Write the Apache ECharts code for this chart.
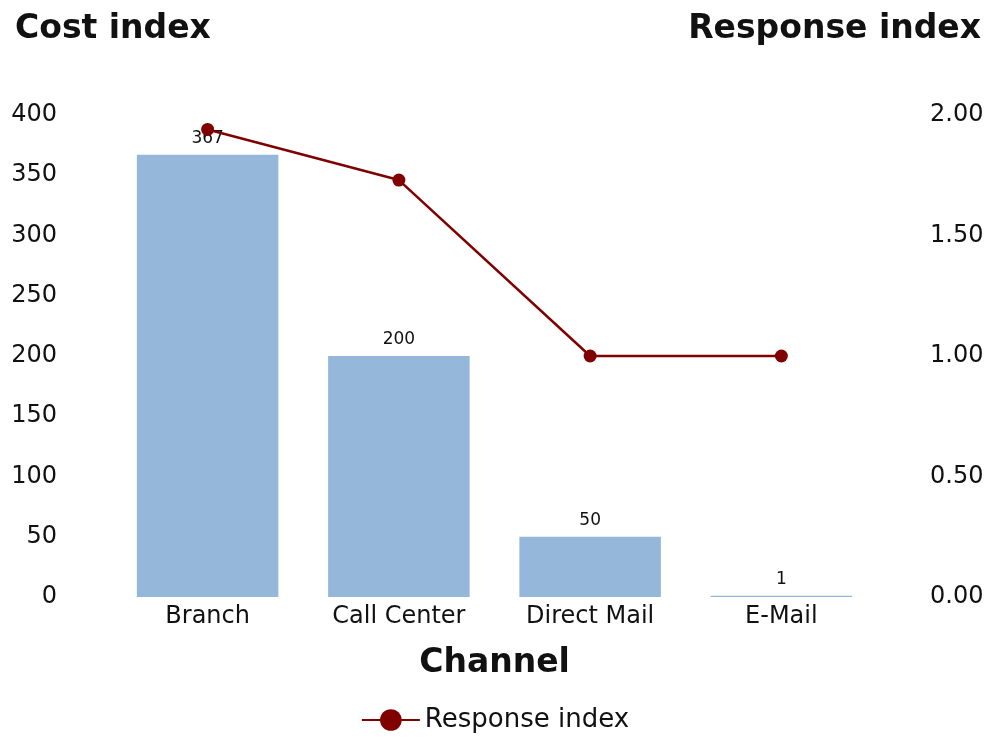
<!DOCTYPE html>
<html>
<head>
<meta charset="utf-8">
<script src="https://cdn.jsdelivr.net/npm/echarts@6/dist/echarts.min.js"></script>
<style>
  html, body { margin: 0; padding: 0; background: #fff; }
  #main { width: 990px; height: 738px; }
</style>
</head>
<body>
<div id="main"></div>
<script>
var channels = ['Branch', 'Call Center', 'Direct Mail', 'E-Mail'];
var costIndex = [367, 200, 50, 1];
var responseIndex = [1.94, 1.73, 1.0, 1.0];

var FONT = '"DejaVu Sans", Verdana, sans-serif';

var chart = echarts.init(document.getElementById('main'));
var option = {
    textStyle: { fontFamily: FONT },
    title: [
        {
            text: 'Cost index',
            left: 10, top: 8,
            textStyle: { fontFamily: FONT, fontSize: 33, fontWeight: 'bold', color: '#111' }
        },
        {
            text: 'Response index',
            right: 4, top: 8,
            textStyle: { fontFamily: FONT, fontSize: 33, fontWeight: 'bold', color: '#111' }
        }
    ],
    legend: {
        bottom: 0,
        left: 'center',
        itemWidth: 58,
        itemHeight: 27,
        itemGap: 8,
        textStyle: { fontFamily: FONT, fontSize: 26, color: '#111' },
        data: ['Response index']
    },
    grid: { left: 112, right: 113, top: 115, bottom: 141 },
    xAxis: {
        type: 'category',
        data: channels,
        name: 'Channel',
        nameLocation: 'middle',
        nameGap: 50,
        nameTextStyle: { fontFamily: FONT, fontSize: 33, fontWeight: 'bold', color: '#111' },
        axisLine: { show: false },
        axisTick: { show: false },
        axisLabel: { fontFamily: FONT, fontSize: 24, color: '#111', margin: 8 }
    },
    yAxis: [
        {
            type: 'value',
            min: 0, max: 400, interval: 50,
            axisLine: { show: false },
            axisTick: { show: false },
            splitLine: { show: false },
            axisLabel: { fontFamily: FONT, fontSize: 24, color: '#111', margin: 55 }
        },
        {
            type: 'value',
            min: 0, max: 2, interval: 0.5,
            axisLine: { show: false },
            axisTick: { show: false },
            splitLine: { show: false },
            axisLabel: {
                fontFamily: FONT, fontSize: 24, color: '#111', margin: 53,
                formatter: function (v) { return v.toFixed(2); }
            }
        }
    ],
    series: [
        {
            name: 'Cost index',
            type: 'bar',
            barWidth: '74%',
            yAxisIndex: 0,
            data: costIndex,
            itemStyle: { color: '#95b7da' },
            label: {
                show: true,
                position: 'top',
                distance: 8,
                fontFamily: FONT,
                fontSize: 17,
                color: '#111'
            }
        },
        {
            name: 'Response index',
            type: 'line',
            yAxisIndex: 1,
            data: responseIndex,
            symbol: 'circle',
            symbolSize: 13,
            lineStyle: { color: '#800000', width: 2.5 },
            itemStyle: { color: '#800000' }
        }
    ]
};
chart.setOption(option);
</script>
</body>
</html>
